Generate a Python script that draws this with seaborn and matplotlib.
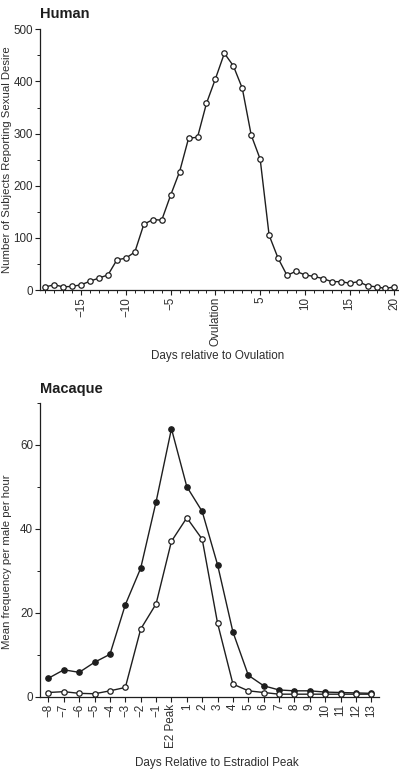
import matplotlib
matplotlib.use("Agg")
import matplotlib.pyplot as plt
import pandas as pd
import seaborn as sns
from matplotlib.ticker import MultipleLocator

# --- Human: subjects reporting sexual desire, by day relative to ovulation ---
human_days = [-19, -18, -17, -16, -15, -14, -13, -12, -11, -10, -9, -8, -7, -6,
              -5, -4, -3, -2, -1, 0, 1, 2, 3, 4, 5, 6, 7, 8, 9, 10, 11, 12, 13,
              14, 15, 16, 17, 18, 19, 20]
human_counts = [6, 10, 6, 7, 10, 17, 23, 29, 58, 61, 73, 126, 135, 134, 182, 227,
                291, 293, 358, 405, 454, 430, 387, 297, 251, 105, 61, 28, 36, 29,
                26, 22, 16, 16, 13, 16, 8, 6, 3, 6]
human_ticks = [-15, -10, -5, 0, 5, 10, 15, 20]
human_ticklabels = ["\u221215", "\u221210", "\u22125", "Ovulation", "5", "10", "15", "20"]

# --- Macaque: mean frequency per male per hour, by day relative to E2 peak ---
mac_days = [-8, -7, -6, -5, -4, -3, -2, -1, 0, 1, 2, 3, 4, 5, 6, 7, 8, 9, 10,
            11, 12, 13]
mac_filled = [4.4, 6.4, 5.8, 8.2, 10.1, 21.9, 30.6, 46.4, 63.8, 50.0, 44.1, 31.4,
              15.4, 5.1, 2.6, 1.6, 1.4, 1.4, 1.1, 1.0, 0.9, 0.8]
mac_open = [1.0, 1.2, 0.8, 0.7, 1.4, 2.2, 16.1, 22.1, 37.0, 42.6, 37.5, 17.5,
            3.0, 1.4, 1.0, 0.6, 0.6, 0.6, 0.6, 0.6, 0.6, 0.6]
mac_ticklabels = ["\u22128", "\u22127", "\u22126", "\u22125", "\u22124", "\u22123",
                  "\u22122", "\u22121", "E2 Peak", "1", "2", "3", "4", "5", "6",
                  "7", "8", "9", "10", "11", "12", "13"]

sns.set_theme(style="ticks")
plt.rcParams["font.family"] = ["Liberation Sans", "DejaVu Sans"]

INK = "#1e1e1e"
TXT = "#2e2e2e"
FS = 8.4
YFS = 8.2
TFS = 10.5

fig = plt.figure(figsize=(3.99, 7.74), dpi=100)
ax1 = fig.add_axes([40 / 399, 1 - 290 / 774, 358 / 399, 260.7 / 774])
ax2 = fig.add_axes([40 / 399, 1 - 696.7 / 774, 339 / 399, 294 / 774])

line_kw = dict(color=INK, lw=1.0, marker="o", ms=3.9, mec=INK, mew=0.9)

df_h = pd.DataFrame({"day": human_days, "count": human_counts})
sns.lineplot(data=df_h, x="day", y="count", ax=ax1, mfc="white", **line_kw)

df_m = pd.DataFrame({"day": mac_days, "filled": mac_filled, "open": mac_open})
sns.lineplot(data=df_m, x="day", y="filled", ax=ax2, mfc=INK, **line_kw)
sns.lineplot(data=df_m, x="day", y="open", ax=ax2, mfc="white", **line_kw)


def style(ax):
    for side in ("top", "right"):
        ax.spines[side].set_visible(False)
    for side in ("left", "bottom"):
        ax.spines[side].set_color(INK)
        ax.spines[side].set_linewidth(0.9)
    ax.tick_params(which="major", direction="out", length=3.5, width=0.8,
                   color=INK, labelsize=FS, labelcolor=TXT, pad=1.5)
    ax.tick_params(which="minor", direction="out", length=2.2, width=0.7, color=INK)
    ax.tick_params(axis="x", labelrotation=90)
    ax.grid(False)


# Human panel
ax1.set_xlim(-19.6, 20.4)
ax1.set_ylim(0, 500)
ax1.set_xticks(human_ticks)
ax1.set_xticklabels(human_ticklabels)
ax1.xaxis.set_minor_locator(MultipleLocator(1))
ax1.yaxis.set_major_locator(MultipleLocator(100))
ax1.yaxis.set_minor_locator(MultipleLocator(50))
style(ax1)
ax1.set_xlabel("Days relative to Ovulation", fontsize=FS, color=TXT)
ax1.set_ylabel("Number of Subjects Reporting Sexual Desire", fontsize=YFS, color=TXT)
ax1.xaxis.set_label_coords(0.495, -0.23)
ax1.yaxis.set_label_coords(-0.0782, 0.5)
ax1.text(0.0, 1.043, "Human", transform=ax1.transAxes, fontsize=TFS,
         fontweight="bold", color=INK, ha="left", va="baseline")

# Macaque panel
ax2.set_xlim(-8.55, 13.5)
ax2.set_ylim(0, 70)
ax2.set_xticks(mac_days)
ax2.set_xticklabels(mac_ticklabels)
ax2.yaxis.set_major_locator(MultipleLocator(20))
ax2.yaxis.set_minor_locator(MultipleLocator(10))
style(ax2)
ax2.set_xlabel("Days Relative to Estradiol Peak", fontsize=FS, color=TXT)
ax2.set_ylabel("Mean frequency per male per hour", fontsize=YFS, color=TXT)
ax2.xaxis.set_label_coords(0.522, -0.205)
ax2.yaxis.set_label_coords(-0.0826, 0.458)
ax2.text(0.0, 1.033, "Macaque", transform=ax2.transAxes, fontsize=TFS,
         fontweight="bold", color=INK, ha="left", va="baseline")

fig.savefig("out.png", dpi=100)
